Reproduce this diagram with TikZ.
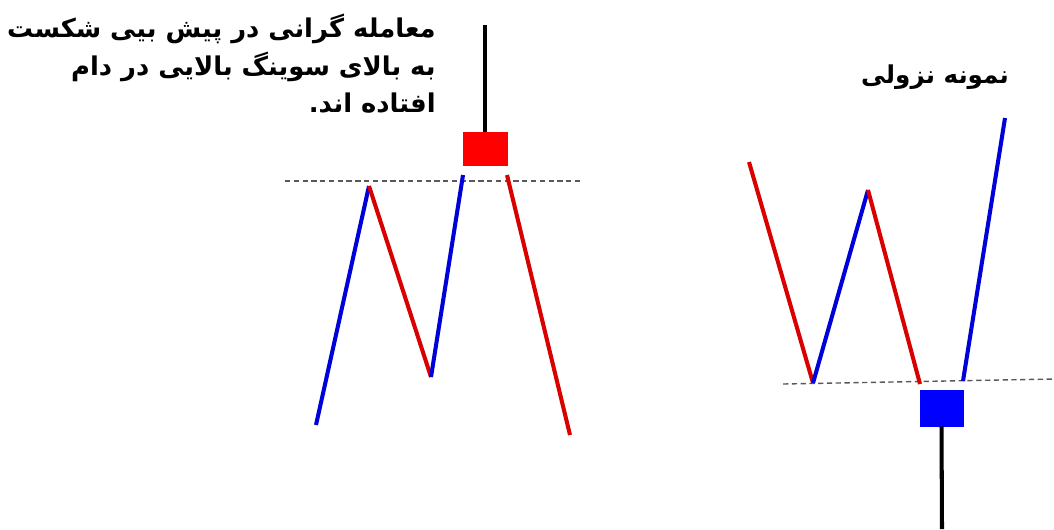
\documentclass[tikz,border=0pt]{standalone}
\usepackage{fontspec}
\newfontfamily\arabicfont[Script=Arabic]{DejaVu Sans}
\TeXXeTstate=1
\usetikzlibrary{positioning}

\begin{document}
\begin{tikzpicture}[
  x=0.02cm, y=-0.02cm,
  upleg/.style={draw=blue!85!black, line width=2.3pt},
  dnleg/.style={draw=red!85!black, line width=2.3pt},
  lvl/.style={densely dashed, draw=gray!70!black, line width=0.8pt},
  wick/.style={line width=2.3pt, black},
  rbody/.style={fill=red, draw=red, minimum width=44*0.02cm, minimum height=33*0.02cm, inner sep=0pt},
  bbody/.style={fill=blue, draw=blue, minimum width=43*0.02cm, minimum height=36*0.02cm, inner sep=0pt},
  fatxt/.style={font=\arabicfont\bfseries\fontsize{14.7}{21.3}\selectfont, inner sep=0pt, align=right},
]
  \useasboundingbox (0,0) rectangle (1054,529);

  % --- Left pattern (trap above swing high) ---
  \coordinate (l0) at (316,425);
  \coordinate (l1) at (369,186);
  \coordinate (l2) at (431,377);
  \coordinate (l3) at (463,175);
  \coordinate (l4) at (507,175);
  \coordinate (l5) at (570,435);
  \coordinate (lh0) at (285,181);
  \coordinate (lh1) at (580,181);
  \draw[lvl] (lh0) -- (lh1);
  \draw[upleg] (l0) -- (l1);
  \draw[dnleg] (l1) -- (l2);
  \draw[upleg] (l2) -- (l3);
  \draw[dnleg] (l4) -- (l5);
  \node[rbody] (rc) at (485,148.5) {};
  \coordinate (rtop) at (485,25);
  \draw[wick] (rtop) -- (rc.north);

  \node[fatxt, anchor=north east] (note) at (436,14)
    {\beginR معامله گرانی در پیش بیی شکست\endR\\
     \beginR به بالای سوینگ بالایی در دام\endR\\
     \beginR افتاده اند.\endR};

  % --- Right pattern (bearish example) ---
  \coordinate (r0) at (749,162);
  \coordinate (r1) at (813,383);
  \coordinate (r2) at (868,190);
  \coordinate (r3) at (920,384);
  \coordinate (r4) at (963,381);
  \coordinate (r5) at (1005,118);
  \coordinate (rh0) at (783,384);
  \coordinate (rh1) at (1054,379);
  \draw[lvl] (rh0) -- (rh1);
  \draw[dnleg] (r0) -- (r1);
  \draw[upleg] (r1) -- (r2);
  \draw[dnleg] (r2) -- (r3);
  \draw[upleg] (r4) -- (r5);
  \node[bbody] (bc) at (941.5,408) {};
  \coordinate (bbot) at (942,529);
  \draw[wick] (bc.south) -- (bbot);

  \node[fatxt, font=\arabicfont\bfseries\fontsize{14}{18}\selectfont] (title) at (935,77) {\beginR نمونه نزولی\endR};
\end{tikzpicture}
\end{document}
